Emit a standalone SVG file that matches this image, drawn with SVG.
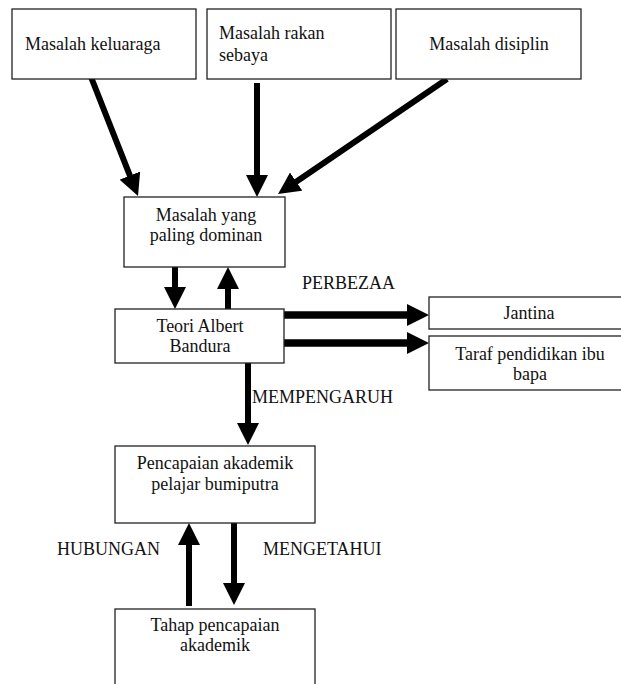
<svg xmlns="http://www.w3.org/2000/svg" width="621" height="684" viewBox="0 0 621 684">
<defs>
<style>
.box{fill:#fff;stroke:#222;stroke-width:1.3}
text{font-family:"Liberation Serif","Times New Roman",serif;font-size:18px;fill:#111}
.c{text-anchor:middle}
.con{stroke:#000;stroke-width:6;fill:none}
.thick{stroke-width:7.5}
</style>
<marker id="ah" markerUnits="userSpaceOnUse" markerWidth="22" markerHeight="22" refX="4" refY="11" orient="auto" viewBox="0 0 22 22">
<path d="M0,0 L22,11 L0,22 z" fill="#000"/>
</marker>
</defs>
<rect width="621" height="684" fill="#fff"/>
<g id="connectors">
<line class="con" x1="91" y1="77" x2="131.4" y2="179.3" marker-end="url(#ah)"/>
<line class="con" x1="257" y1="83" x2="257" y2="179" marker-end="url(#ah)"/>
<line class="con" x1="447" y1="79" x2="292.9" y2="183.9" marker-end="url(#ah)"/>
<line class="con" x1="175" y1="267" x2="175" y2="291" marker-end="url(#ah)"/>
<line class="con" x1="228" y1="309" x2="228" y2="285" marker-end="url(#ah)"/>
<line class="con thick" x1="284" y1="315" x2="411" y2="315" marker-end="url(#ah)"/>
<line class="con thick" x1="284" y1="343" x2="411" y2="343" marker-end="url(#ah)"/>
<line class="con" x1="248" y1="363" x2="248" y2="427" marker-end="url(#ah)"/>
<line class="con" x1="189" y1="606" x2="189" y2="541" marker-end="url(#ah)"/>
<line class="con" x1="234" y1="523" x2="234" y2="587" marker-end="url(#ah)"/>
<text x="302" y="289">PERBEZAA</text>
<text x="252" y="403">MEMPENGARUH</text>
<text x="57" y="555">HUBUNGAN</text>
<text x="263" y="555">MENGETAHUI</text>
</g>
<g id="keluarga">
<rect class="box" x="12" y="9" width="184" height="70"/>
<text x="25" y="50">Masalah keluaraga</text>
</g>
<g id="rakan">
<rect class="box" x="207" y="9" width="184" height="70"/>
<text x="219" y="39">Masalah rakan</text>
<text x="219" y="61">sebaya</text>
</g>
<g id="disiplin">
<rect class="box" x="396" y="9" width="185" height="70"/>
<text class="c" x="489" y="50">Masalah disiplin</text>
</g>
<g id="dominan">
<rect class="box" x="124" y="197" width="161" height="70"/>
<text class="c" x="206" y="221">Masalah yang</text>
<text class="c" x="206" y="241">paling dominan</text>
</g>
<g id="teori">
<rect class="box" x="115" y="309" width="169" height="54"/>
<text class="c" x="200" y="332">Teori Albert</text>
<text class="c" x="200" y="352">Bandura</text>
</g>
<g id="jantina">
<rect class="box" x="429" y="297" width="200" height="32"/>
<text class="c" x="529" y="319">Jantina</text>
</g>
<g id="taraf">
<rect class="box" x="429" y="336" width="200" height="54"/>
<text class="c" x="530" y="360">Taraf pendidikan ibu</text>
<text class="c" x="530" y="380">bapa</text>
</g>
<g id="pencapaian">
<rect class="box" x="115" y="446" width="200" height="77"/>
<text class="c" x="215" y="469">Pencapaian akademik</text>
<text class="c" x="215" y="490">pelajar bumiputra</text>
</g>
<g id="tahap">
<rect class="box" x="115" y="609" width="200" height="90"/>
<text class="c" x="215" y="631">Tahap pencapaian</text>
<text class="c" x="215" y="651">akademik</text>
</g>
</svg>
